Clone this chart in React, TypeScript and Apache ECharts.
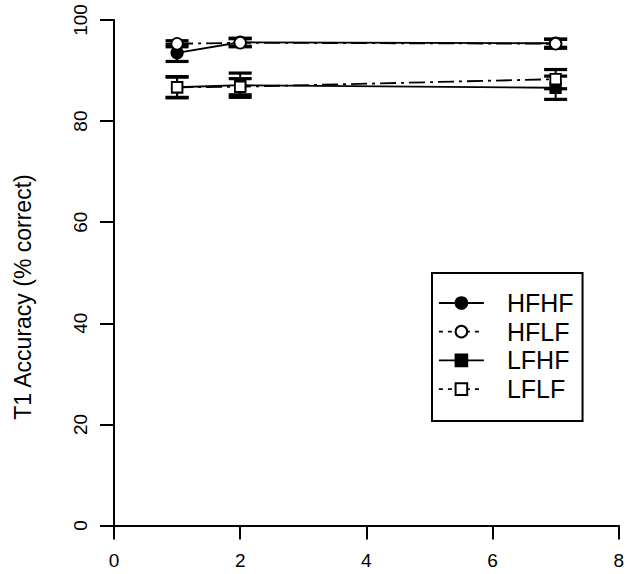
import React, { useEffect, useRef } from "react";
import * as echarts from "echarts";

const xValues = [1, 2, 7];
const seriesNames = ["HFHF", "HFLF", "LFHF", "LFLF"];
const hfhf = [93.5, 95.6, 95.4];
const hfhfErr = [1.7, 0.8, 0.8];
const hflf = [95.3, 95.5, 95.3];
const hflfErr = [0.6, 0.8, 0.9];
const lfhf = [86.7, 87.1, 86.6];
const lfhfErr = [2.1, 2.4, 2.3];
const lflf = [86.7, 86.8, 88.3];
const lflfErr = [2.0, 1.6, 1.9];
const xTicks = [0, 2, 4, 6, 8];
const yTicks = [0, 20, 40, 60, 80, 100];
const yTitle = "T1 Accuracy (% correct)";

const FONT = "'Liberation Sans', Arial, Helvetica, sans-serif";
const DASHDOT = [16, 5, 3, 5];
const LEGEND_DASH = [4, 5];

function pts(vals: number[]) {
  return xValues.map((x, i) => [x, vals[i]]);
}
function errs(vals: number[], e: number[]) {
  return xValues.map((x, i) => [x, vals[i] - e[i], vals[i] + e[i]]);
}

const renderErr = (params: any, api: any) => {
  const x = api.value(0);
  const lo = api.coord([x, api.value(1)]);
  const hi = api.coord([x, api.value(2)]);
  const hw = 11.5;
  const st = { stroke: "#000", lineWidth: 2 };
  const cap = { stroke: "#000", lineWidth: 3.2 };
  return {
    type: "group",
    children: [
      { type: "line", shape: { x1: lo[0], y1: lo[1], x2: hi[0], y2: hi[1] }, style: st },
      { type: "line", shape: { x1: lo[0] - hw, y1: lo[1], x2: lo[0] + hw, y2: lo[1] }, style: cap },
      { type: "line", shape: { x1: hi[0] - hw, y1: hi[1], x2: hi[0] + hw, y2: hi[1] }, style: cap },
    ],
  };
};

export default function App() {
  const ref = useRef<HTMLDivElement>(null);
  useEffect(() => {
    document.body.style.margin = "0";
    const chart = echarts.init(ref.current!, null, { renderer: "svg" });
    const values = [hfhf, hflf, lfhf, lflf];
    const errors = [hfhfErr, hflfErr, lfhfErr, lflfErr];
    const symbols = ["circle", "circle", "rect", "rect"];
    const fills = ["#000", "#fff", "#000", "#fff"];
    const sizes = [11.5, 11.5, 10.5, 10.5];
    const dashes: any[] = ["solid", DASHDOT, "solid", DASHDOT];
    const legendDashes: any[] = ["solid", LEGEND_DASH, "solid", LEGEND_DASH];

    const errSeries = values.map((v, i) => ({
      type: "custom",
      name: seriesNames[i] + " err",
      data: errs(v, errors[i]),
      renderItem: renderErr,
      z: 1,
      silent: true,
    }));
    const lineSeries = values.map((v, i) => ({
      type: "line",
      name: seriesNames[i],
      data: pts(v),
      symbol: symbols[i],
      symbolSize: sizes[i],
      showAllSymbol: true,
      itemStyle: { color: fills[i], borderColor: "#000", borderWidth: 1.8, opacity: 1 },
      lineStyle: { color: "#000", width: 1.8, type: dashes[i] },
      z: 2 + i,
    }));

    chart.setOption({
      animation: false,
      grid: { left: 114, right: 3, top: 20, bottom: 48.5, containLabel: false },
      xAxis: {
        type: "value",
        min: 0,
        max: 8,
        interval: 2,
        splitLine: { show: false },
        axisLine: { lineStyle: { color: "#000", width: 2 } },
        axisTick: { length: 14, lineStyle: { color: "#000", width: 2 } },
        axisLabel: { color: "#000", fontSize: 19, fontFamily: FONT, margin: 25, showMaxLabel: true, showMinLabel: true },
      },
      yAxis: {
        type: "value",
        min: 0,
        max: 100,
        interval: 20,
        splitLine: { show: false },
        axisLine: { show: true, lineStyle: { color: "#000", width: 2 } },
        axisTick: { show: true, length: 14, lineStyle: { color: "#000", width: 2 } },
        axisLabel: { color: "#000", fontSize: 19, fontFamily: FONT, rotate: 90, margin: 24 },
      },
      legend: {
        data: seriesNames.map((n, i) => ({
          name: n,
          lineStyle: { color: "#000", width: 1.8, type: legendDashes[i] },
        })),
        orient: "vertical",
        left: 432,
        top: 273,
        padding: [17.5, 9, 19.5, 6],
        itemWidth: 45,
        itemHeight: 14.5,
        itemGap: 3.7,
        borderColor: "#000",
        borderWidth: 2,
        selectedMode: false,
        textStyle: { color: "#000", fontSize: 25, fontFamily: FONT, lineHeight: 25, padding: [0, 0, 0, 18] },
      },
      graphic: [
        {
          type: "text",
          x: 23,
          y: 297,
          rotation: Math.PI / 2,
          style: {
            text: yTitle,
            fontSize: 23,
            fontFamily: FONT,
            fill: "#000",
            align: "center",
            verticalAlign: "middle",
          },
        },
      ],
      series: [...errSeries, ...lineSeries],
    });
    return () => chart.dispose();
  }, []);
  return <div ref={ref} style={{ width: 627, height: 574 }} />;
}
